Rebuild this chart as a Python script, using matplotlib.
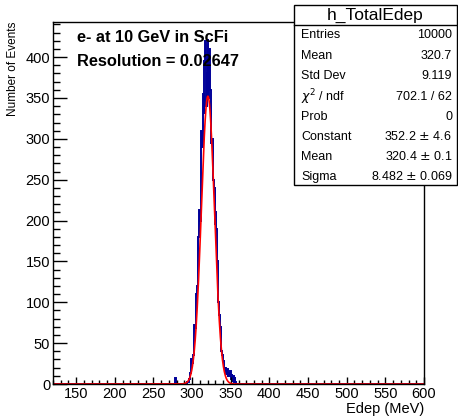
import numpy as np
import matplotlib
matplotlib.use("Agg")
import matplotlib.pyplot as plt
from matplotlib.ticker import MultipleLocator

plt.rcParams['font.family'] = ['Liberation Sans', 'DejaVu Sans']

# histogram contents, 1 MeV bins (lower edges)
bin_edges_low = list(range(276, 357))
counts = [
    0, 0, 7, 0, 0, 0, 0, 0, 0, 0,            # 276-285
    0, 0, 0, 0, 0, 0, 0, 1, 2, 3,            # 286-295
    6, 14, 22, 30, 26, 35, 55, 72, 68, 110,  # 296-305
    120, 145, 180, 213, 200, 260, 310, 290, 355, 330,  # 306-315
    395, 420, 340, 380, 422, 350, 410, 360, 330, 295,  # 316-325
    300, 250, 240, 195, 210, 190, 150, 120, 100, 85,   # 326-335
    70, 55, 40, 35, 28, 20, 15, 20, 12, 18,  # 336-345
    8, 14, 10, 16, 6, 12, 4, 10, 3, 8,       # 346-355
    2,                                       # 356
]

# gaussian fit results
fit_const = 352.2
fit_mean = 320.4
fit_sigma = 8.482

x_min, x_max = 120, 600
y_max = 443

stats_rows = [
    ("Entries", "10000"),
    ("Mean", "320.7"),
    ("Std Dev", "9.119"),
    (r"$\chi^2$ / ndf", "702.1 / 62"),
    ("Prob", "0"),
    ("Constant", r"352.2 $\pm$ 4.6"),
    ("Mean", r"320.4 $\pm$ 0.1"),
    ("Sigma", r"8.482 $\pm$ 0.069"),
]

fig = plt.figure(figsize=(4.58, 4.16), dpi=100)
ax = fig.add_axes([53/458, 1-384/416, (424-53)/458, (384-22)/416])

# full step outline including empty bins across the whole range
edges = np.arange(x_min, x_max + 1)
full = np.zeros(len(edges) - 1)
for lo, c in zip(bin_edges_low, counts):
    full[lo - x_min] = c
ax.stairs(full, edges, color='#000099', lw=1.4)

xf = np.linspace(x_min, x_max, 2000)
yf = fit_const * np.exp(-0.5 * ((xf - fit_mean) / fit_sigma) ** 2)
ax.plot(xf, yf, color='red', lw=1.2)

ax.set_xlim(x_min, x_max)
ax.set_ylim(0, y_max)
ax.xaxis.set_major_locator(MultipleLocator(50))
ax.xaxis.set_minor_locator(MultipleLocator(10))
ax.yaxis.set_major_locator(MultipleLocator(50))
ax.yaxis.set_minor_locator(MultipleLocator(10))
ax.tick_params(which='both', direction='in', top=False, right=False, labelsize=10.5, width=1)
ax.tick_params(axis='x', which='major', length=5, pad=2.5)
ax.tick_params(axis='x', which='minor', length=3)
ax.tick_params(axis='y', which='major', length=10, pad=2)
ax.tick_params(axis='y', which='minor', length=5)
for s in ax.spines.values():
    s.set_linewidth(1)

fig.text(424/458, 1-409/416, "Edep (MeV)", ha='right', va='center', fontsize=10.5)
fig.text(13/458, 1-22/416, "Number of Events", ha='center', va='top', rotation=90, fontsize=8.5)

fig.text(77/458, 1-38/416, "e- at 10 GeV in ScFi", ha='left', va='center', fontsize=11.8, fontweight='bold')
fig.text(77/458, 1-61/416, "Resolution = 0.02647", ha='left', va='center', fontsize=11.8, fontweight='bold')

# stats box
bl, br, bt, bb = 294/458, 457/458, 1-5/416, 1-185/416
fig.patches.append(plt.Rectangle((bl, bb), br-bl, bt-bb, transform=fig.transFigure,
                                 facecolor='white', edgecolor='black', lw=1, zorder=5))
sep = 1-25/416
fig.add_artist(plt.Line2D([bl, br], [sep, sep], transform=fig.transFigure, color='black', lw=1, zorder=6))
fig.text((bl+br)/2, 1-15/416, "h_TotalEdep", ha='center', va='center', fontsize=12.5, zorder=7)
row_y = [35, 56, 76, 97, 117, 137, 157, 177]
for (name, val), yy in zip(stats_rows, row_y):
    fig.text(301/458, 1-yy/416, name, ha='left', va='center', fontsize=9, zorder=7)
    fig.text(452/458, 1-yy/416, val, ha='right', va='center', fontsize=9, zorder=7)

fig.savefig("out.png", dpi=100)
